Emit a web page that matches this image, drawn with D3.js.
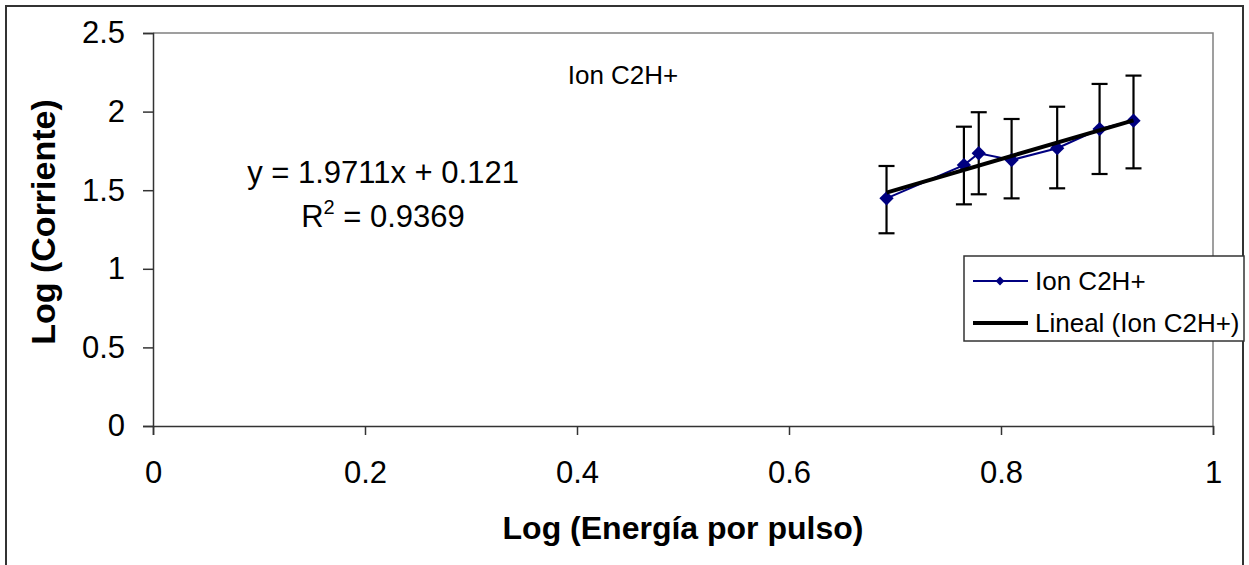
<!DOCTYPE html>
<html>
<head>
<meta charset="utf-8">
<script src="https://cdn.jsdelivr.net/npm/d3@7"></script>
<style>
  body { margin: 0; background: #fff; }
  #d3_container { width: 1249px; height: 565px; }
  text { font-family: "Liberation Sans", Arial, sans-serif; fill: #000; }
</style>
</head>
<body>
<div id="d3_container"></div>
<script>
// series values
var xVals   = [0.692, 0.765, 0.779, 0.810, 0.853, 0.893, 0.925];
var yVals   = [1.448, 1.660, 1.735, 1.692, 1.767, 1.889, 1.942];
var errUp   = [0.206, 0.244, 0.261, 0.261, 0.264, 0.287, 0.287];
var errDown = [0.222, 0.250, 0.261, 0.244, 0.255, 0.286, 0.303];

var xTicks = [0, 0.2, 0.4, 0.6, 0.8, 1];
var yTicks = [0, 0.5, 1, 1.5, 2, 2.5];

var seriesName = "Ion C2H+";
var trendName = "Lineal (Ion C2H+)";
var slope = 1.9711, intercept = 0.121, r2 = "0.9369";

var width = 1249, height = 565;

var svg = d3.select("#d3_container").append("svg")
    .attr("width", width)
    .attr("height", height);

var x = d3.scaleLinear().domain([0, 1]).range([153, 1213]);
var y = d3.scaleLinear().domain([0, 2.5]).range([426, 33]);

var points = xVals.map(function(d, i) {
    return { x: d, y: yVals[i], up: errUp[i], down: errDown[i] };
});

// outer chart frame
svg.append("rect")
    .attr("x", 6).attr("y", 6)
    .attr("width", 1237).attr("height", 580)
    .attr("fill", "#fff")
    .attr("stroke", "#333")
    .attr("stroke-width", 2);

// plot area border (top + right)
svg.append("path")
    .attr("d", "M" + x(0) + "," + y(2.5) + "H" + x(1) + "V" + y(0))
    .attr("fill", "none")
    .attr("stroke", "#808080")
    .attr("stroke-width", 1.5);

var xAxis = svg.append("g")
    .attr("transform", "translate(0," + y(0) + ")")
    .call(d3.axisBottom(x).tickValues(xTicks).tickSize(9).tickPadding(26)
        .tickFormat(d3.format("")));

var yAxis = svg.append("g")
    .attr("transform", "translate(" + x(0) + ",0)")
    .call(d3.axisLeft(y).tickValues(yTicks).tickSize(10).tickPadding(18)
        .tickFormat(d3.format("")));

[xAxis, yAxis].forEach(function(a) {
    a.attr("font-family", null).attr("font-size", null);
    a.select(".domain").attr("stroke", "#333").attr("stroke-width", 1.5);
    a.selectAll(".tick line").attr("stroke", "#333").attr("stroke-width", 1.5);
    a.selectAll(".tick text").style("font-size", "31px").attr("fill", "#000");
});

// error bars
var eb = svg.append("g").attr("stroke", "#000").attr("stroke-width", 2.2);
eb.selectAll("line.v").data(points).enter().append("line")
    .attr("x1", function(d) { return x(d.x); })
    .attr("x2", function(d) { return x(d.x); })
    .attr("y1", function(d) { return y(d.y + d.up); })
    .attr("y2", function(d) { return y(d.y - d.down); });
eb.selectAll("line.top").data(points).enter().append("line")
    .attr("x1", function(d) { return x(d.x) - 8; })
    .attr("x2", function(d) { return x(d.x) + 8; })
    .attr("y1", function(d) { return y(d.y + d.up); })
    .attr("y2", function(d) { return y(d.y + d.up); });
eb.selectAll("line.bot").data(points).enter().append("line")
    .attr("x1", function(d) { return x(d.x) - 8; })
    .attr("x2", function(d) { return x(d.x) + 8; })
    .attr("y1", function(d) { return y(d.y - d.down); })
    .attr("y2", function(d) { return y(d.y - d.down); });

// series line
var line = d3.line()
    .x(function(d) { return x(d.x); })
    .y(function(d) { return y(d.y); });

svg.append("path")
    .datum(points)
    .attr("d", line)
    .attr("fill", "none")
    .attr("stroke", "#000080")
    .attr("stroke-width", 2);

var diamondType = d3.symbolDiamond2 || d3.symbolDiamond;

svg.append("g").selectAll("path")
    .data(points)
    .enter().append("path")
    .attr("d", d3.symbol().type(diamondType).size(130))
    .attr("transform", function(d) { return "translate(" + x(d.x) + "," + y(d.y) + ")"; })
    .attr("fill", "#000080");

// trendline
var xExt = d3.extent(xVals);
svg.append("line")
    .attr("x1", x(xExt[0])).attr("y1", y(slope * xExt[0] + intercept))
    .attr("x2", x(xExt[1])).attr("y2", y(slope * xExt[1] + intercept))
    .attr("stroke", "#000")
    .attr("stroke-width", 4);

// title
svg.append("text")
    .attr("x", 623).attr("y", 84)
    .attr("text-anchor", "middle")
    .style("font-size", "26px")
    .text(seriesName);

// equation
svg.append("text")
    .attr("x", 383).attr("y", 183)
    .attr("text-anchor", "middle")
    .style("font-size", "31px")
    .text("y = " + slope + "x + " + intercept);

var r2text = svg.append("text")
    .attr("x", 383).attr("y", 227)
    .attr("text-anchor", "middle")
    .style("font-size", "31px");
r2text.append("tspan").text("R");
r2text.append("tspan").attr("dy", -13).style("font-size", "20px").text("2");
r2text.append("tspan").attr("dy", 13).text(" = " + r2);

// axis titles
svg.append("text")
    .attr("x", 683).attr("y", 539)
    .attr("text-anchor", "middle")
    .style("font-size", "32px")
    .style("font-weight", "bold")
    .text("Log (Energía por pulso)");

svg.append("text")
    .attr("transform", "translate(55,222) rotate(-90)")
    .attr("text-anchor", "middle")
    .style("font-size", "34px")
    .style("font-weight", "bold")
    .text("Log (Corriente)");

// legend
var legend = svg.append("g");
legend.append("rect")
    .attr("x", 964).attr("y", 256)
    .attr("width", 280).attr("height", 85)
    .attr("fill", "#fff")
    .attr("stroke", "#333")
    .attr("stroke-width", 1.5);

legend.append("line")
    .attr("x1", 973).attr("x2", 1028).attr("y1", 281).attr("y2", 281)
    .attr("stroke", "#000080").attr("stroke-width", 2);
legend.append("path")
    .attr("d", d3.symbol().type(diamondType).size(50))
    .attr("transform", "translate(1000,281)")
    .attr("fill", "#000080");
legend.append("text")
    .attr("x", 1035).attr("y", 290)
    .style("font-size", "26px")
    .text(seriesName);

legend.append("line")
    .attr("x1", 973).attr("x2", 1028).attr("y1", 323).attr("y2", 323)
    .attr("stroke", "#000").attr("stroke-width", 4);
legend.append("text")
    .attr("x", 1035).attr("y", 332)
    .style("font-size", "26px")
    .text(trendName);
</script>
</body>
</html>
